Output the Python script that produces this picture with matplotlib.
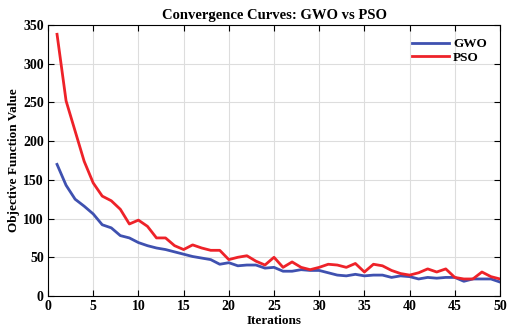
import matplotlib
matplotlib.use("Agg")
import matplotlib.pyplot as plt

iterations = list(range(1, 51))
gwo = [170, 143, 125, 116, 106, 92, 88, 78, 75, 69,
       65, 62, 60, 57, 54, 51, 49, 47, 41, 43,
       39, 40, 40, 36, 37, 32, 32, 34, 33, 33,
       30, 27, 26, 28, 26, 27, 27, 24, 26, 25,
       22, 24, 23, 24, 24, 19, 22, 22, 22, 18]
pso = [338, 252, 213, 174, 146, 129, 123, 112, 93, 98,
       90, 75, 75, 65, 60, 66, 62, 59, 59, 47,
       50, 52, 45, 40, 50, 37, 44, 37, 34, 37,
       41, 40, 37, 42, 31, 41, 39, 33, 29, 27,
       30, 35, 31, 35, 24, 22, 22, 31, 25, 22]

x_ticks = list(range(0, 51, 5))
y_ticks = list(range(0, 351, 50))

plt.rcParams['font.family'] = ['Liberation Serif', 'DejaVu Serif']

fig = plt.figure(figsize=(5.07, 3.33), dpi=100)
ax = fig.add_axes([48 / 507, 37 / 333, 452 / 507, 271 / 333])

ax.plot(iterations, gwo, color='#3F51B0', lw=2.0, label='GWO')
ax.plot(iterations, pso, color='#EE2229', lw=2.0, label='PSO')

ax.set_xlim(0, 50)
ax.set_ylim(0, 350)
ax.set_xticks(x_ticks)
ax.set_yticks(y_ticks)
ax.grid(True, color='#DDDDDD', lw=0.8)
ax.tick_params(direction='in', top=True, right=True, length=4, width=0.8,
               labelsize=10, pad=3)
for lbl in ax.get_xticklabels() + ax.get_yticklabels():
    lbl.set_fontweight('bold')
for s in ax.spines.values():
    s.set_linewidth(0.8)

ax.set_title('Convergence Curves: GWO vs PSO', fontsize=10.5, fontweight='bold', pad=4)
ax.set_xlabel('Iterations', fontsize=9.5, fontweight='bold', labelpad=1)
ax.set_ylabel('Objective Function Value', fontsize=9.5, fontweight='bold', labelpad=2)

leg = ax.legend(loc='upper right', frameon=False, prop={'weight': 'bold', 'size': 9.5},
                handlelength=2.8, handletextpad=0.3, labelspacing=0.1,
                borderaxespad=0.6)

fig.savefig('out.png', dpi=100)
